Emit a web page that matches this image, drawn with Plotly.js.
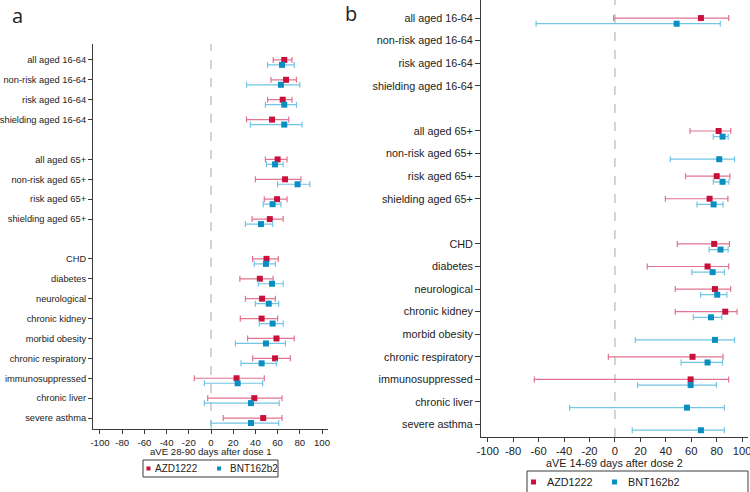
<!DOCTYPE html>
<html>
<head>
<meta charset="utf-8">
<script src="https://cdn.plot.ly/plotly-3.0.1.min.js"></script>
<style>html,body{margin:0;padding:0;background:#fff;}#chart{width:750px;height:492px;}</style>
</head>
<body>
<div id="chart"></div>
<script>
// ---- data ----
var categories = ["all aged 16-64","non-risk aged 16-64","risk aged 16-64","shielding aged 16-64",
  "all aged 65+","non-risk aged 65+","risk aged 65+","shielding aged 65+",
  "CHD","diabetes","neurological","chronic kidney","morbid obesity","chronic respiratory",
  "immunosuppressed","chronic liver","severe asthma"];
var xTicks = [-100,-80,-60,-40,-20,0,20,40,60,80,100];

// panel a: aVE 28-90 days after dose 1
var azd1Est = [66, 67.6, 64.6, 55, 60, 66.7, 59.5, 53, 50, 44, 46, 45.6, 59, 57.7, 23, 39, 47];
var azd1Lo  = [56, 54, 51, 32, 49, 40, 48, 37, 37.5, 26, 31, 26.4, 33, 37.5, -15, -3, 11];
var azd1Hi  = [73, 77, 73, 70, 68.5, 81, 68.5, 65, 60.6, 56, 58, 60, 75, 71.5, 48, 64, 64];
var bnt1Est = [64, 63, 66, 66, 57.7, 78, 55.5, 45, 49.5, 55, 52, 55.5, 49.5, 45.6, 24, 36, 36];
var bnt1Lo  = [51, 32, 49, 35.5, 50, 60, 47, 31, 39, 42.6, 40, 43.5, 22, 27, -6, -6, 0];
var bnt1Hi  = [75, 80, 77, 82, 65, 89, 63, 55.5, 58, 65, 61, 65, 67, 59, 46.5, 61.5, 61];

// panel b: aVE 14-69 days after dose 2
var azd2Est = [67.6, null, null, null, 81.5, null, 80, 74.4, 78, 72.8, 78.6, 86.7, null, 61, 59.5, null, null];
var azd2Lo  = [-1, null, null, null, 59, null, 55.5, 39.6, 49, 25.4, 47.4, 47.4, null, -5.2, -63.4, null, null];
var azd2Hi  = [89.4, null, null, null, 91, null, 90.4, 88.8, 90, 89.4, 91, 96, null, 85, 89.4, null, null];
var bnt2Est = [48.5, null, null, null, 84.6, 82, 84.6, 77.6, 83, 76.8, 80.4, 75.5, 78.6, 72.8, 59.5, 56.6, 67.6];
var bnt2Lo  = [-62, null, null, null, 77.3, 43.5, 77.3, 64.5, 74, 60.5, 67.3, 61.6, 16, 52, 17.8, -35.6, 13.6];
var bnt2Hi  = [82.8, null, null, null, 89, 94, 89.6, 85, 89, 86, 88, 84, 94, 84.6, 79.7, 86, 86];

var seriesNames = ["AZD1222", "BNT162b2"];
var titleA = "aVE 28-90 days after dose 1";
var titleB = "aVE 14-69 days after dose 2";

// ---- styling / structure ----
var FONT = '"Liberation Sans", Arial, sans-serif';
var RED = '#c8103a', RED_ERR = '#e2748f';
var BLUE = '#0a8dc1', BLUE_ERR = '#72c5e5';
var AX = '#3a3a3a';
var FA = 9.6, FB = 10.8;

// row positions: groups separated by one empty row
var rows = categories.map(function(c, i){ return i + (i >= 4 ? 1 : 0) + (i >= 8 ? 1 : 0); });
var OFF = 0.25;

function plus(est, hi){ return est.map(function(v,i){ return v==null?null:hi[i]-v; }); }
function minus(est, lo){ return est.map(function(v,i){ return v==null?null:v-lo[i]; }); }

function trace(est, lo, hi, off, color, errColor, name, xa, ya){
  return {
    type:'scatter', mode:'markers', name:name,
    x: est, y: rows.map(function(r){ return r + off; }),
    xaxis: xa, yaxis: ya, showlegend:false, cliponaxis:false,
    marker:{symbol:'square', size:6, color:color},
    error_x:{type:'data', symmetric:false, array:plus(est,hi), arrayminus:minus(est,lo),
             color:errColor, thickness:1.2, width:3}
  };
}

var data = [
  trace(azd1Est, azd1Lo, azd1Hi, 0, RED, RED_ERR, seriesNames[0], 'x', 'y'),
  trace(bnt1Est, bnt1Lo, bnt1Hi, OFF, BLUE, BLUE_ERR, seriesNames[1], 'x', 'y'),
  trace(azd2Est, azd2Lo, azd2Hi, 0, RED, RED_ERR, seriesNames[0], 'x2', 'y2'),
  trace(bnt2Est, bnt2Lo, bnt2Hi, OFF, BLUE, BLUE_ERR, seriesNames[1], 'x2', 'y2')
];

var W = 750, H = 492;
function px(x){ return x / W; }
function py(y){ return 1 - y / H; }

function xAxis(dom, anchor, size, rng){
  return {domain:dom, anchor:anchor, range:rng, tickvals:xTicks, ticktext:xTicks.map(String),
    ticks:'outside', ticklen:4, tickcolor:AX, showline:true, linecolor:AX, linewidth:1,
    showgrid:false, zeroline:false, fixedrange:true, ticklabeloverflow:'allow',
    tickfont:{family:FONT, size:size, color:'#222'}};
}
function yAxis(dom, anchor, size, tl){
  return {domain:dom, anchor:anchor, range:[18.55, -0.8], tickvals:rows, ticktext:categories,
    ticks:'outside', ticklen:tl, tickcolor:AX, showline:true, linecolor:AX, linewidth:1,
    showgrid:false, zeroline:false, fixedrange:true,
    tickfont:{family:FONT, size:size, color:'#222'}};
}

var shapes = [
  {type:'line', xref:'x', yref:'y domain', x0:0, x1:0, y0:0, y1:1, line:{color:'#a8a8a8', width:1, dash:'dash'}, layer:'below'},
  {type:'line', xref:'x2', yref:'y2 domain', x0:0, x1:0, y0:0, y1:1, line:{color:'#a8a8a8', width:1, dash:'dash'}, layer:'below'},
  // legend boxes
  {type:'rect', xref:'paper', yref:'paper', x0:px(143), x1:px(278), y0:py(477), y1:py(460), line:{color:AX, width:1}},
  {type:'rect', xref:'paper', yref:'paper', x0:px(527), x1:px(748), y0:py(496), y1:py(471), line:{color:AX, width:1}},
  // legend symbols
  {type:'rect', xref:'paper', yref:'paper', x0:px(146.5), x1:px(150.5), y0:py(470.5), y1:py(466.5), fillcolor:RED, line:{width:0}},
  {type:'rect', xref:'paper', yref:'paper', x0:px(217), x1:px(221), y0:py(470.5), y1:py(466.5), fillcolor:BLUE, line:{width:0}},
  {type:'rect', xref:'paper', yref:'paper', x0:px(531), x1:px(536), y0:py(484.5), y1:py(479.5), fillcolor:RED, line:{width:0}},
  {type:'rect', xref:'paper', yref:'paper', x0:px(612), x1:px(617), y0:py(484.5), y1:py(479.5), fillcolor:BLUE, line:{width:0}}
];

function ann(text, x, y, size, anchor, fam){
  return {text:text, xref:'paper', yref:'paper', x:px(x), y:py(y), xanchor:anchor||'center', yanchor:'middle',
    showarrow:false, font:{family:fam||FONT, size:size, color:'#222'}};
}

var annotations = [
  ann(titleA, 211, 451, FA),
  ann(titleB, 614, 463, FB),
  ann('a', 17, 16, 20, 'center', '"Open Sans", "Liberation Sans", sans-serif'),
  ann('b', 351, 14, 20, 'center', '"Open Sans", "Liberation Sans", sans-serif'),
  ann(seriesNames[0], 153, 468.5, 10, 'left'),
  ann(seriesNames[1], 228, 468.5, 10, 'left'),
  ann(seriesNames[0], 545, 482, 10.8, 'left'),
  ann(seriesNames[1], 626, 482, 10.8, 'left')
];

var layout = {
  width:W, height:H, margin:{l:0, r:0, t:0, b:0},
  paper_bgcolor:'#fff', plot_bgcolor:'#fff', showlegend:false,
  xaxis: xAxis([px(93), px(328)], 'y', FA, [-106.3, 105.4]),
  yaxis: yAxis([py(429), py(44)], 'x', 9.3, 4),
  xaxis2: xAxis([px(481), px(748)], 'y2', 11.2, [-105.3, 104.6]),
  yaxis2: yAxis([py(437), 1], 'x2', FB, 5),
  shapes: shapes,
  annotations: annotations
};

Plotly.newPlot('chart', data, layout, {displayModeBar:false, staticPlot:true});
</script>
</body>
</html>
